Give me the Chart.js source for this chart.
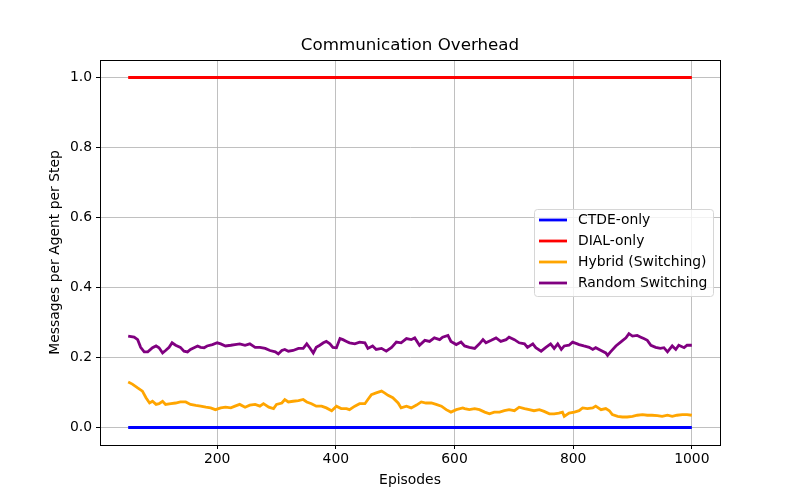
<!DOCTYPE html>
<html>
<head>
<meta charset="utf-8">
<title>Communication Overhead</title>
<script src="https://cdn.jsdelivr.net/npm/chart.js@4"></script>
<style>
  html, body { margin: 0; padding: 0; background: #fff; }
  #chart { display: block; }
</style>
</head>
<body>
<canvas id="chart" width="800" height="500"></canvas>
<script>
// ---- data ----
const seriesLabels = ['CTDE-only', 'DIAL-only', 'Hybrid (Switching)', 'Random Switching'];
const seriesColors = ['#0000ff', '#ff0000', '#ffa500', '#800080'];

const constEpisodes = [50, 1000];
const ctdeValues = [0, 0];
const dialValues = [1, 1];

const hybridEpisodes = [50, 57, 66, 74, 80, 86, 91, 97, 102, 108, 113, 122, 130, 138, 147, 155, 164, 172, 181, 189, 197, 206, 214, 223,
  230, 238, 247, 255, 264, 272, 278, 287, 295, 300, 309, 314, 320, 328, 337, 345, 351, 359, 367, 376, 384, 393, 401, 409, 418,
  423, 432, 440, 449, 454, 460, 468, 477, 482, 488, 496, 505, 510, 519, 527, 536, 544, 552, 561, 569, 578, 586, 594, 603, 614,
  617, 625, 634, 642, 651, 659, 667, 676, 684, 692, 701, 709, 718, 726, 734, 743, 751, 760, 768, 776, 782, 785, 793, 802,
  810, 816, 824, 833, 838, 847, 855, 861, 866, 875, 883, 891, 900, 908, 917, 925, 933, 942, 950, 959, 967, 975, 984, 992, 1000];
const hybridValues = [0.130, 0.124, 0.113, 0.104, 0.085, 0.070, 0.075, 0.066, 0.068, 0.075, 0.066, 0.068, 0.070, 0.073, 0.073, 0.066, 0.063, 0.061, 0.058, 0.056, 0.051, 0.056, 0.058, 0.056,
  0.061, 0.066, 0.058, 0.064, 0.066, 0.061, 0.068, 0.058, 0.054, 0.066, 0.070, 0.080, 0.073, 0.075, 0.077, 0.080, 0.073, 0.068, 0.061, 0.061, 0.056, 0.048, 0.061, 0.054, 0.054,
  0.051, 0.061, 0.068, 0.068, 0.080, 0.094, 0.099, 0.104, 0.099, 0.092, 0.085, 0.070, 0.056, 0.061, 0.056, 0.064, 0.073, 0.070, 0.070, 0.066, 0.061, 0.051, 0.044, 0.051, 0.056,
  0.054, 0.051, 0.054, 0.051, 0.044, 0.039, 0.044, 0.044, 0.048, 0.051, 0.048, 0.058, 0.054, 0.051, 0.048, 0.051, 0.046, 0.039, 0.039, 0.041, 0.044, 0.032, 0.041, 0.044,
  0.048, 0.056, 0.054, 0.056, 0.061, 0.051, 0.054, 0.048, 0.037, 0.032, 0.030, 0.030, 0.032, 0.035, 0.037, 0.035, 0.035, 0.034, 0.032, 0.035, 0.032, 0.035, 0.037, 0.037, 0.035];

const randomEpisodes = [50, 60, 66, 71, 77, 83, 91, 97, 102, 108, 113, 119, 124, 130, 138, 144, 150, 155, 161, 167, 172, 178, 183, 192, 200, 206, 214, 223,
  230, 238, 247, 255, 264, 272, 281, 289, 298, 303, 309, 314, 320, 328, 337, 345, 351, 356, 362, 367, 373, 379, 384, 390, 395, 401, 407, 412, 418,
  423, 432, 440, 449, 454, 462, 468, 477, 485, 494, 502, 510, 519, 527, 533, 541, 550, 558, 566, 575, 580, 589, 594, 603, 611,
  617, 625, 634, 642, 648, 653, 662, 670, 678, 687, 692, 701, 709, 718, 723, 732, 737, 746, 754, 762, 768, 774, 780, 785, 793, 799, 807,
  810, 818, 827, 833, 838, 847, 855, 858, 863, 872, 880, 889, 894, 900, 908, 914, 919, 925, 931, 939, 947, 953, 959, 967, 973, 978, 987, 992, 1000];
const randomValues = [0.261, 0.258, 0.251, 0.229, 0.216, 0.216, 0.228, 0.233, 0.228, 0.213, 0.220, 0.229, 0.242, 0.235, 0.229, 0.218, 0.216, 0.223, 0.228, 0.233, 0.229, 0.228, 0.233, 0.237, 0.242, 0.239, 0.233, 0.235,
  0.237, 0.239, 0.235, 0.239, 0.229, 0.229, 0.226, 0.220, 0.216, 0.210, 0.220, 0.223, 0.218, 0.220, 0.226, 0.226, 0.239, 0.228, 0.213, 0.229, 0.235, 0.242, 0.246, 0.239, 0.229, 0.228, 0.254, 0.251, 0.246,
  0.242, 0.239, 0.244, 0.242, 0.226, 0.233, 0.223, 0.226, 0.218, 0.229, 0.244, 0.242, 0.254, 0.251, 0.256, 0.235, 0.249, 0.246, 0.256, 0.251, 0.258, 0.263, 0.246, 0.237, 0.244,
  0.233, 0.229, 0.226, 0.239, 0.251, 0.242, 0.249, 0.256, 0.246, 0.251, 0.258, 0.251, 0.242, 0.239, 0.229, 0.239, 0.228, 0.218, 0.229, 0.239, 0.226, 0.239, 0.223, 0.233, 0.235, 0.244, 0.239,
  0.237, 0.233, 0.229, 0.223, 0.228, 0.220, 0.213, 0.206, 0.216, 0.233, 0.244, 0.256, 0.268, 0.261, 0.263, 0.258, 0.254, 0.249, 0.235, 0.229, 0.226, 0.228, 0.216, 0.233, 0.223, 0.235, 0.228, 0.235, 0.235];

const xTicks = [200, 400, 600, 800, 1000];
const yTicks = [0.0, 0.2, 0.4, 0.6, 0.8, 1.0];

const FONT = 'DejaVu Sans';

function toPoints(xs, ys) {
    return xs.map((x, i) => ({ x: x, y: ys[i] }));
}

// Title, axis titles, frame and legend drawn on top of the chart area
const decorPlugin = {
    id: 'decor',
    afterDraw(chart) {
        const ctx = chart.ctx;
        const area = chart.chartArea;
        ctx.save();

        // frame (all four spines)
        ctx.strokeStyle = '#000';
        ctx.lineWidth = 1;
        ctx.strokeRect(area.left + 0.5, area.top + 0.5, area.right - area.left, area.bottom - area.top);

        // title
        ctx.fillStyle = '#000';
        ctx.textAlign = 'center';
        ctx.textBaseline = 'middle';
        ctx.font = '16.7px "' + FONT + '"';
        ctx.fillText('Communication Overhead', (area.left + area.right) / 2, 46);

        // axis titles
        ctx.font = '13.9px "' + FONT + '"';
        ctx.fillText('Episodes', (area.left + area.right) / 2, 480);
        ctx.translate(55, (area.top + area.bottom) / 2);
        ctx.rotate(-Math.PI / 2);
        ctx.fillText('Messages per Agent per Step', 0, 0);
        ctx.restore();

        // legend box
        ctx.save();
        const bx = 534.5, by = 209.5, bw = 179, bh = 87, r = 3;
        ctx.beginPath();
        ctx.moveTo(bx + r, by);
        ctx.arcTo(bx + bw, by, bx + bw, by + bh, r);
        ctx.arcTo(bx + bw, by + bh, bx, by + bh, r);
        ctx.arcTo(bx, by + bh, bx, by, r);
        ctx.arcTo(bx, by, bx + bw, by, r);
        ctx.closePath();
        ctx.fillStyle = 'rgba(255,255,255,0.8)';
        ctx.fill();
        ctx.strokeStyle = '#d6d6d6';
        ctx.lineWidth = 1;
        ctx.stroke();

        ctx.font = '13.9px "' + FONT + '"';
        ctx.textAlign = 'left';
        ctx.textBaseline = 'middle';
        chart.data.datasets.forEach((ds, i) => {
            const y = 220 + i * 21;
            ctx.strokeStyle = ds.borderColor;
            ctx.lineWidth = 2.8;
            ctx.beginPath();
            ctx.moveTo(539, y);
            ctx.lineTo(567, y);
            ctx.stroke();
            ctx.fillStyle = '#000';
            ctx.fillText(ds.label, 578, y);
        });
        ctx.restore();
    }
};

const seriesData = [
    toPoints(constEpisodes, ctdeValues),
    toPoints(constEpisodes, dialValues),
    toPoints(hybridEpisodes, hybridValues),
    toPoints(randomEpisodes, randomValues)
];

const chart = new Chart(document.getElementById('chart'), {
    type: 'line',
    data: {
        datasets: seriesLabels.map((label, i) => ({
            label: label,
            data: seriesData[i],
            borderColor: seriesColors[i],
            backgroundColor: seriesColors[i],
            borderWidth: 2.8,
            pointRadius: 0,
            tension: 0,
            order: seriesLabels.length - i
        }))
    },
    options: {
        responsive: false,
        animation: false,
        devicePixelRatio: 1,
        layout: { padding: { top: 60, right: 80, left: 0, bottom: 0 } },
        plugins: {
            legend: { display: false },
            title: { display: false },
            tooltip: { enabled: false }
        },
        scales: {
            x: {
                type: 'linear',
                min: 2.5,
                max: 1047.5,
                afterBuildTicks: (scale) => { scale.ticks = xTicks.map(v => ({ value: v })); },
                afterFit: (scale) => { scale.height = 55; },
                ticks: {
                    color: '#000',
                    font: { family: FONT, size: 13.9 },
                    padding: 2,
                    maxRotation: 0,
                    callback: (v) => String(v)
                },
                grid: { color: '#b0b0b0', lineWidth: 0.8, tickLength: 4, tickColor: '#000', tickWidth: 1 },
                border: { color: '#000', width: 1 }
            },
            y: {
                type: 'linear',
                min: -0.05,
                max: 1.05,
                afterBuildTicks: (scale) => { scale.ticks = yTicks.map(v => ({ value: v })); },
                afterFit: (scale) => { scale.width = 100; },
                ticks: {
                    color: '#000',
                    font: { family: FONT, size: 13.9 },
                    padding: 4,
                    callback: (v) => v.toFixed(1)
                },
                grid: { color: '#b0b0b0', lineWidth: 0.8, tickLength: 4, tickColor: '#000', tickWidth: 1 },
                border: { color: '#000', width: 1 }
            }
        }
    },
    plugins: [decorPlugin]
});
</script>
</body>
</html>
